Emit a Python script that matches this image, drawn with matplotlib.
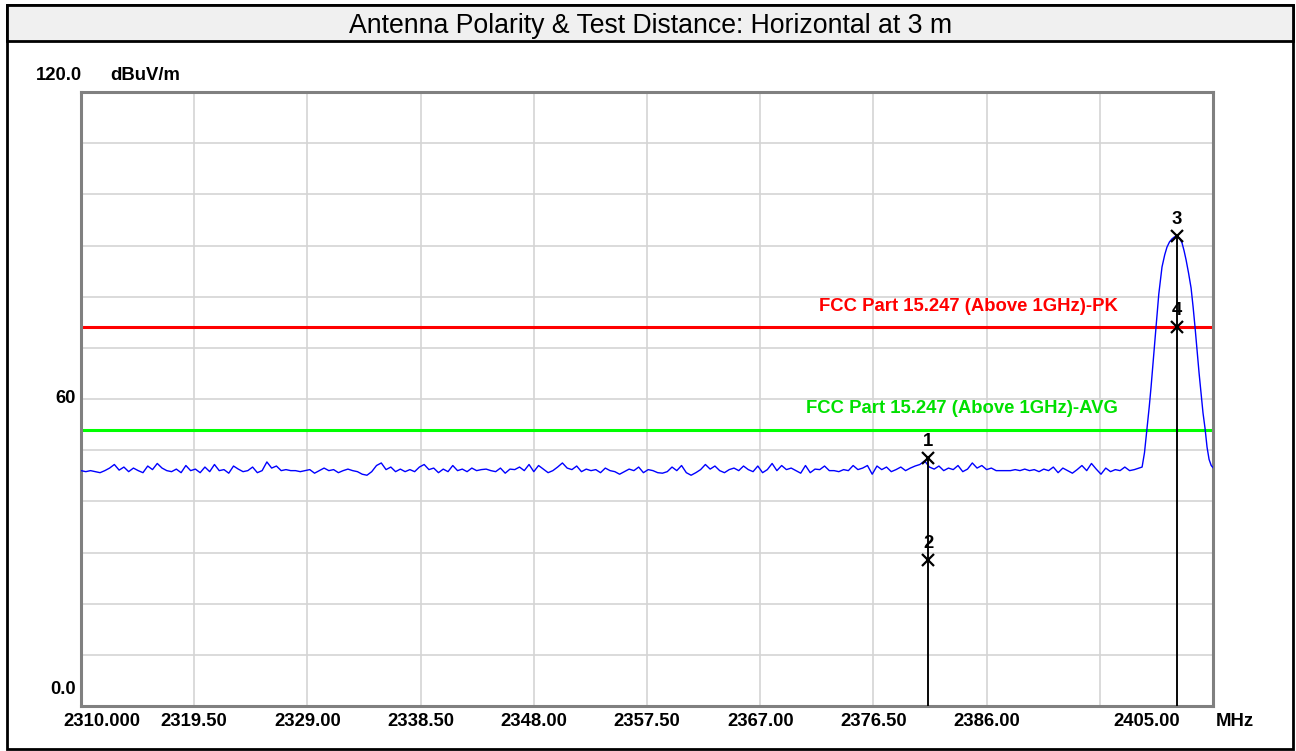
import matplotlib.pyplot as plt
import numpy as np
from matplotlib.patches import Rectangle

# sweep: 2310 MHz .. 2398.8 MHz in 0.4 MHz steps (noise floor part)
sweep_start = 2310.0
sweep_step = 0.4
noise_level = [
    46.0, 45.8, 46.0, 45.8, 45.6, 46.0, 46.5, 47.2, 46.1, 46.7,
    45.8, 46.5, 46.0, 45.6, 46.9, 46.2, 47.4, 46.5, 46.0, 45.8,
    46.3, 45.6, 47.0, 46.0, 46.3, 45.6, 46.7, 45.8, 47.2, 46.0,
    46.2, 45.5, 46.9, 46.3, 45.8, 46.0, 46.7, 45.6, 46.0, 47.7,
    46.5, 46.9, 46.0, 46.2, 46.0, 46.0, 45.8, 46.0, 46.2, 45.5,
    46.0, 46.5, 46.0, 46.2, 45.6, 46.0, 46.3, 46.0, 45.8, 45.3,
    45.1, 45.8, 47.0, 47.5, 46.2, 46.7, 45.8, 46.3, 45.8, 46.2,
    45.8, 46.7, 47.2, 46.2, 46.5, 45.6, 46.3, 45.8, 47.0, 46.0,
    46.3, 45.8, 46.5, 46.0, 46.2, 46.3, 46.0, 45.8, 46.5, 45.5,
    46.3, 46.2, 46.7, 46.0, 47.2, 45.8, 47.0, 46.3, 45.6, 46.0,
    46.7, 47.5, 46.5, 46.2, 46.9, 45.8, 46.3, 46.0, 46.2, 45.6,
    46.5, 46.0, 45.8, 45.3, 45.8, 46.3, 46.0, 46.7, 45.6, 46.2,
    46.0, 45.6, 45.5, 45.8, 46.7, 46.0, 47.0, 45.6, 45.1, 45.6,
    46.2, 47.2, 46.3, 46.9, 46.0, 45.6, 46.2, 46.5, 46.0, 46.9,
    46.2, 45.8, 46.9, 45.6, 46.2, 47.4, 46.0, 47.0, 46.2, 46.5,
    46.0, 45.5, 47.0, 45.6, 46.3, 46.2, 46.9, 46.0, 46.0, 45.8,
    46.2, 46.0, 47.0, 46.2, 46.5, 47.0, 45.3, 46.9, 46.2, 46.7,
    45.8, 46.2, 46.7, 46.0, 46.5, 46.9, 47.2, 47.9, 46.7, 46.3,
    46.9, 46.0, 46.5, 46.2, 47.0, 45.8, 46.3, 47.5, 46.5, 47.0,
    46.2, 46.5, 46.0, 46.0, 46.0, 46.0, 46.2, 46.0, 46.3, 46.0,
    46.2, 45.8, 46.3, 46.0, 46.7, 45.6, 46.5, 46.0, 45.5, 46.2,
    47.0, 46.0, 47.4, 46.3, 45.3, 46.5, 45.8, 46.2, 46.0, 46.7,
    46.0, 46.2, 46.5,
]

# carrier at 2402 MHz
peak_freq = [2399.05, 2399.25, 2399.47, 2399.65, 2399.80, 2400.00, 2400.22, 2400.45,
             2400.72, 2400.95, 2401.14, 2401.35, 2401.56, 2401.78, 2401.98, 2402.20,
             2402.40, 2402.57, 2402.74, 2402.95, 2403.16, 2403.33, 2403.49, 2403.66,
             2403.83, 2404.00, 2404.16, 2404.33, 2404.50, 2404.67, 2404.85, 2405.00]
peak_level = [46.7, 49.5, 54.5, 58.5, 62.3, 68.0, 74.1, 80.5,
              85.8, 88.2, 89.7, 90.7, 91.3, 91.7, 91.8, 91.4,
              90.5, 89.0, 87.2, 84.6, 81.7, 78.0, 74.1, 69.6,
              65.1, 61.0, 57.3, 54.3, 50.6, 48.2, 47.0, 46.6]

limit_pk = 74.0
limit_avg = 54.0
limit_pk_label = "FCC Part 15.247 (Above 1GHz)-PK"
limit_avg_label = "FCC Part 15.247 (Above 1GHz)-AVG"

marker_no = ["1", "2", "3", "4"]
marker_freq = [2381.1, 2381.1, 2401.98, 2401.98]
marker_level = [48.4, 28.5, 91.8, 74.0]

x_ticks = [2310.0 + 9.5 * i for i in range(11)]
x_labels = ["2310.000", "2319.50", "2329.00", "2338.50", "2348.00", "2357.50",
            "2367.00", "2376.50", "2386.00", "", "2405.00"]

title = "Antenna Polarity & Test Distance: Horizontal at 3 m"

W, H = 1296, 751


def fx(px):
    return px / W


def fy(py):
    return 1 - py / H


bold = dict(family="Liberation Sans", fontweight="bold", fontsize=13.3)

fig = plt.figure(figsize=(W / 100, H / 100), dpi=100)
fig.patch.set_facecolor("white")

# frame and title band
fig.add_artist(Rectangle((fx(7), fy(749)), fx(1293) - fx(7), fy(5) - fy(749),
                         transform=fig.transFigure, fill=False, edgecolor="black", lw=2))
fig.add_artist(Rectangle((fx(7), fy(41)), fx(1293) - fx(7), fy(5) - fy(41),
                         transform=fig.transFigure, facecolor="#f0f0f0", edgecolor="black", lw=2))
fig.text(fx(651), fy(26), title, ha="center", va="center", fontsize=19.2, family="Liberation Sans")

ax = fig.add_axes([fx(81), fy(706), fx(1213) - fx(81), fy(92) - fy(706)])
ax.set_xlim(2310, 2405)
ax.set_ylim(0, 120)
ax.set_xticks(x_ticks)
ax.set_yticks(np.arange(0, 121, 10))
ax.set_xticklabels([])
ax.set_yticklabels([])
ax.tick_params(length=0)
ax.grid(True, color="#d4d4d4", lw=1.2)
ax.set_axisbelow(True)
for s in ax.spines.values():
    s.set_color("#808080")
    s.set_linewidth(2.2)

# trace
freq = sweep_start + sweep_step * np.arange(len(noise_level))
ax.plot(np.concatenate([freq, peak_freq]), np.concatenate([noise_level, peak_level]),
        color="#0000ff", lw=1.0, zorder=3)

# limit lines
ax.axhline(limit_pk, color="#ff0000", lw=2.2, zorder=2)
ax.axhline(limit_avg, color="#00ff00", lw=2.2, zorder=2)
ax.annotate(limit_pk_label, (2397.0, limit_pk), xytext=(0, 15), textcoords="offset points",
            ha="right", va="center", color="#ff0000", **bold)
ax.annotate(limit_avg_label, (2397.0, limit_avg), xytext=(0, 15), textcoords="offset points",
            ha="right", va="center", color="#00e000", **bold)

# markers
for no, f, lv in zip(marker_no, marker_freq, marker_level):
    top = max(l for ff, l in zip(marker_freq, marker_level) if ff == f)
    ax.plot([f, f], [0, top], color="black", lw=1.1, zorder=4)
    ax.plot(f, lv, marker="x", color="black", ms=8, mew=1.6, zorder=5)
    ax.annotate(no, (f, lv), xytext=(0, 12), textcoords="offset points",
                ha="center", va="center", color="black", **bold)

# x labels
for t, lab in zip(x_ticks, x_labels):
    dx = 0
    if lab == "2310.000":
        dx = 15
    if lab == "2405.00":
        dx = -48
    ax.annotate(lab, (t, 0), xycoords=("data", "axes fraction"), xytext=(dx, -11),
                textcoords="offset points", ha="center", va="center", **bold)
ax.annotate("MHz", (1, 0), xycoords="axes fraction", xytext=(2, -11),
            textcoords="offset points", ha="left", va="center", **bold)

# y labels
ax.annotate("120.0", (0, 1), xycoords="axes fraction", xytext=(1, 12),
            textcoords="offset points", ha="right", va="center", **bold)
ax.annotate("dBuV/m", (0, 1), xycoords="axes fraction", xytext=(21, 12),
            textcoords="offset points", ha="left", va="center", **bold)
ax.annotate("60", (0, 0.5), xycoords="axes fraction", xytext=(-4, 0),
            textcoords="offset points", ha="right", va="center", **bold)
ax.annotate("0.0", (0, 0), xycoords="axes fraction", xytext=(-4, 12),
            textcoords="offset points", ha="right", va="center", **bold)

fig.savefig("out.png", dpi=100)
